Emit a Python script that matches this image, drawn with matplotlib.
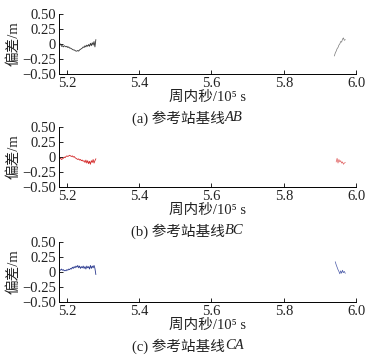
import matplotlib
matplotlib.use("Agg")
import matplotlib.pyplot as plt

FAM = ['Liberation Serif', 'Noto Sans CJK SC', 'DejaVu Serif']
plt.rcParams['font.family'] = FAM

# time (10^5 s)
t1 = [5.180, 5.1825, 5.185, 5.1875, 5.190, 5.1925, 5.195, 5.1975, 5.200, 5.2025,
      5.205, 5.2075, 5.210, 5.2125, 5.215, 5.2175, 5.220, 5.2225, 5.225, 5.2275,
      5.230, 5.2325, 5.235, 5.2375, 5.240, 5.2425, 5.245, 5.2475, 5.250, 5.2525,
      5.255, 5.2575, 5.260, 5.2625, 5.265, 5.2675, 5.270, 5.2725, 5.275, 5.2775, 5.280]

ab_y1 = [-0.02, 0.00, -0.04, -0.03, -0.05, -0.03, -0.04, -0.05, -0.04, -0.06,
         -0.05, -0.07, -0.07, -0.08, -0.09, -0.10, -0.10, -0.11, -0.12, -0.12,
         -0.11, -0.12, -0.10, -0.09, -0.08, -0.07, -0.05, -0.06, -0.03, -0.05,
         -0.02, -0.04, -0.01, -0.04, 0.01, -0.03, 0.02, -0.02, 0.04, -0.05, 0.07]
ab_t2 = [5.940, 5.9425, 5.945, 5.9475, 5.950, 5.9525, 5.955, 5.9575, 5.960, 5.9625, 5.965, 5.9675, 5.970]
ab_y2 = [-0.20, -0.15, -0.12, -0.08, -0.06, -0.02, 0.00, 0.04, 0.03, 0.08, 0.10, 0.06, 0.07]

bc_y1 = [-0.03, -0.02, -0.04, -0.03, -0.02, 0.00, -0.01, 0.01, 0.02, 0.01,
         0.02, 0.03, 0.02, 0.01, 0.02, 0.00, 0.01, -0.01, -0.02, -0.03,
         -0.04, -0.03, -0.05, -0.04, -0.06, -0.05, -0.07, -0.06, -0.09, -0.05,
         -0.10, -0.06, -0.11, -0.07, -0.12, -0.06, -0.09, -0.04, -0.10, -0.06, -0.03]
bc_t2 = [5.945, 5.9475, 5.950, 5.9525, 5.955, 5.9575, 5.960, 5.9625, 5.965, 5.9675, 5.970]
bc_y2 = [-0.08, -0.02, -0.10, -0.04, -0.08, -0.06, -0.10, -0.08, -0.12, -0.10, -0.09]

ca_y1 = [0.04, 0.03, 0.05, 0.03, 0.04, 0.02, 0.03, 0.02, 0.04, 0.03,
         0.05, 0.04, 0.06, 0.05, 0.08, 0.06, 0.09, 0.07, 0.10, 0.08,
         0.11, 0.07, 0.10, 0.06, 0.09, 0.07, 0.10, 0.06, 0.09, 0.05,
         0.10, 0.07, 0.09, 0.05, 0.11, 0.06, 0.10, 0.07, 0.11, 0.06, -0.04]
ca_t2 = [5.9425, 5.945, 5.9475, 5.950, 5.9525, 5.955, 5.9575, 5.960, 5.9625, 5.965, 5.9675, 5.970]
ca_y2 = [0.17, 0.12, 0.08, 0.04, 0.01, -0.03, 0.02, -0.02, 0.03, -0.01, 0.01, -0.02]

yticks = [-0.50, -0.25, 0, 0.25, 0.50]
ytick_labels = ['\u22120.50', '\u22120.25', '0', '0.25', '0.50']
xticks = [5.2, 5.4, 5.6, 5.8, 6.0]
xtick_labels = ['5.2', '5.4', '5.6', '5.8', '6.0']

panels = [
    (ab_y1, ab_t2, ab_y2, '#333333', '#777777', '(a) 参考站基线', 'AB'),
    (bc_y1, bc_t2, bc_y2, '#d42a2a', '#e06060', '(b) 参考站基线', 'BC'),
    (ca_y1, ca_t2, ca_y2, '#2b3a8f', '#4a5aa8', '(c) 参考站基线', 'CA'),
]

fig = plt.figure(figsize=(3.78, 3.57), dpi=100)
bottoms = [0.793, 0.476, 0.154]
FS = 10.5
for (y1, t2, y2, c1, c2, cap, capit), b in zip(panels, bottoms):
    ax = fig.add_axes([0.156, b, 0.786, 0.168])
    ax.plot(t1, y1, color=c1, lw=0.6)
    ax.plot(t2, y2, color=c2, lw=0.5)
    ax.set_xlim(5.178, 6.0)
    ax.set_ylim(-0.5, 0.5)
    ax.set_yticks(yticks)
    ax.set_yticklabels(ytick_labels)
    ax.set_xticks(xticks)
    ax.set_xticklabels(xtick_labels)
    for s in ['top', 'right']:
        ax.spines[s].set_visible(False)
    for s in ['left', 'bottom']:
        ax.spines[s].set_linewidth(0.7)
    ax.tick_params(direction='in', length=3, width=0.7, labelsize=FS, pad=2, colors='#222222')
    ax.set_ylabel('偏差/m', fontsize=FS, labelpad=1, color='#222222')
    ax.set_xlabel('周内秒/10\u2075 s', fontsize=FS, labelpad=1, color='#222222')
    t = fig.text(0.595, b - 0.123, cap, ha='right', va='center', fontsize=FS, color='#222222')
    ax.annotate(capit, xy=(1.0, 0.5), xycoords=t, ha='left', va='center',
                fontsize=FS, fontstyle='italic', color='#222222')

fig.savefig('out.png', dpi=100)
